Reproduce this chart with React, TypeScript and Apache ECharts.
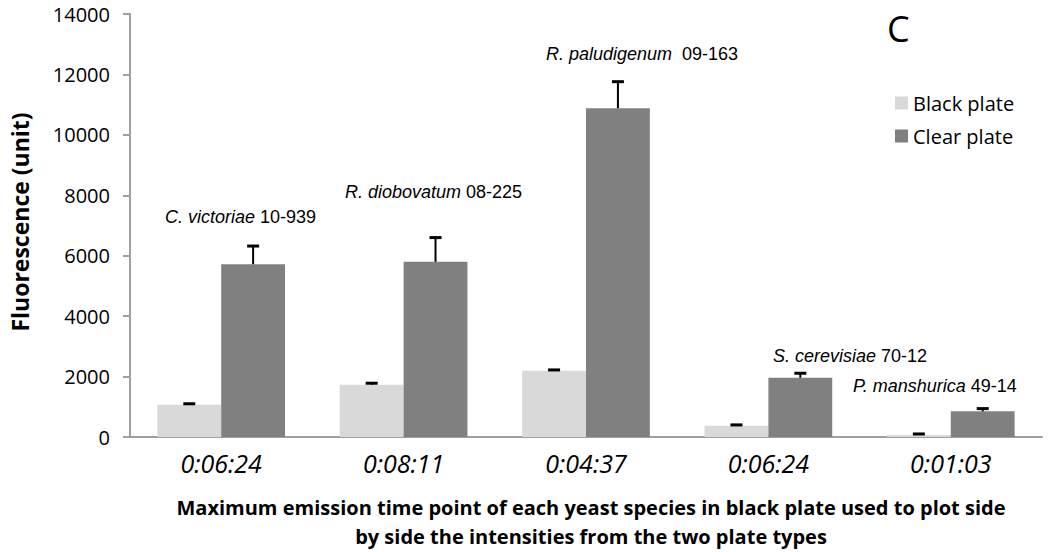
import React, { useEffect, useRef } from "react";
import * as echarts from "echarts";

const categories = ["0:06:24", "0:08:11", "0:04:37", "0:06:24", "0:01:03"];
const blackPlate = [1070, 1730, 2190, 370, 70];
const clearPlate = [5720, 5800, 10880, 1960, 850];
const blackErr = [30, 50, 30, 30, 30];
const clearErr = [600, 800, 880, 150, 90];
const species = ["C. victoriae", "R. diobovatum", "R. paludigenum", "S. cerevisiae", "P. manshurica"];
const strains = ["10-939", "08-225", "09-163", "70-12", "49-14"];
const yTicks = [0, 14000, 2000];

const annotPos = [
  [165, 208],
  [345, 183],
  [546, 45],
  [773, 347],
  [853, 377],
];

const SANS = "'Open Sans', 'Noto Sans', sans-serif";
const ARIAL = "'Liberation Sans', Arial, sans-serif";

function errorSeries(name: string, vals: number[], errs: number[], sign: number) {
  return {
    type: "custom",
    name,
    silent: true,
    z: 5,
    data: vals.map((v, i) => [i, v, errs[i]]),
    renderItem: (params: any, api: any) => {
      const i = api.value(0);
      const v = api.value(1);
      const e = api.value(2);
      const base = api.coord([i, v]);
      const top = api.coord([i, v + e]);
      const bw = api.size([1, 0])[0];
      const x = base[0] + sign * bw * 0.175;
      const half = 6;
      return {
        type: "group",
        children: [
          { type: "line", shape: { x1: x, y1: base[1], x2: x, y2: top[1] }, style: { stroke: "#000", lineWidth: 2 } },
          { type: "line", shape: { x1: x - half, y1: top[1], x2: x + half, y2: top[1] }, style: { stroke: "#000", lineWidth: 3 } },
        ],
      };
    },
  };
}

export default function App() {
  const ref = useRef<HTMLDivElement>(null);
  useEffect(() => {
    if (!ref.current) return;
    const chart = echarts.init(ref.current, null, { renderer: "svg" });
    const option: any = {
      animation: false,
      backgroundColor: "#fff",
      grid: { left: 130, right: 8, top: 14, bottom: 115, containLabel: false, outerBoundsMode: "none" },
      legend: {
        orient: "vertical",
        left: 890,
        top: 88,
        itemWidth: 13,
        itemHeight: 13,
        itemGap: 13,
        icon: "rect",
        data: ["Black plate", "Clear plate"],
        textStyle: { fontFamily: SANS, fontSize: 20, color: "#000" },
      },
      xAxis: {
        type: "category",
        data: categories,
        axisLine: { show: true, lineStyle: { color: "#a0a0a0", width: 2 } },
        axisTick: { show: false },
        axisLabel: { fontFamily: SANS, fontStyle: "italic", fontSize: 25, color: "#000", margin: 13, interval: 0 },
      },
      yAxis: {
        type: "value",
        min: yTicks[0],
        max: yTicks[1],
        interval: yTicks[2],
        splitLine: { show: false },
        axisLine: { show: true, lineStyle: { color: "#a0a0a0", width: 2 } },
        axisTick: { show: true, length: 7, lineStyle: { color: "#a0a0a0", width: 2 } },
        axisLabel: {
          fontFamily: SANS,
          fontSize: 20,
          color: "#000",
          margin: 20,
          formatter: (v: number) => String(v),
        },
      },
      series: [
        {
          type: "bar",
          name: "Black plate",
          data: blackPlate,
          barGap: "0%",
          barCategoryGap: "30%",
          itemStyle: { color: "#d9d9d9" },
        },
        {
          type: "bar",
          name: "Clear plate",
          data: clearPlate,
          barGap: "0%",
          barCategoryGap: "30%",
          itemStyle: { color: "#808080" },
        },
        errorSeries("Black err", blackPlate, blackErr, -1),
        errorSeries("Clear err", clearPlate, clearErr, 1),
      ],
      graphic: [
        ...species.map((s, i) => ({
          type: "text",
          left: annotPos[i][0],
          top: annotPos[i][1],
          style: {
            text: `{it|${s}}${i === 2 ? "  " : " "}${strains[i]}`,
            rich: { it: { fontStyle: "italic", fontFamily: ARIAL, fontSize: 18, fill: "#000" } },
            fontFamily: ARIAL,
            fontSize: 18,
            fill: "#000",
          },
        })),
        {
          type: "text",
          left: 887,
          top: 10,
          style: { text: "C", fontFamily: SANS, fontSize: 36, fill: "#000" },
        },
        {
          type: "text",
          x: 20,
          y: 222,
          rotation: Math.PI / 2,
          style: {
            text: "Fluorescence (unit)",
            fontFamily: SANS,
            fontWeight: "bold",
            fontSize: 23,
            fill: "#000",
            align: "center",
            verticalAlign: "middle",
          },
        },
        {
          type: "text",
          x: 591,
          y: 522,
          style: {
            text: "Maximum emission time point of each yeast species in black plate used to plot side\nby side the intensities from the two plate types",
            fontFamily: SANS,
            fontWeight: "bold",
            fontSize: 20,
            lineHeight: 29,
            fill: "#000",
            align: "center",
            verticalAlign: "middle",
          },
        },
      ],
    };
    chart.setOption(option);
    return () => chart.dispose();
  }, []);
  return <div ref={ref} style={{ position: "fixed", left: 0, top: 0, width: 1050, height: 552 }} />;
}
